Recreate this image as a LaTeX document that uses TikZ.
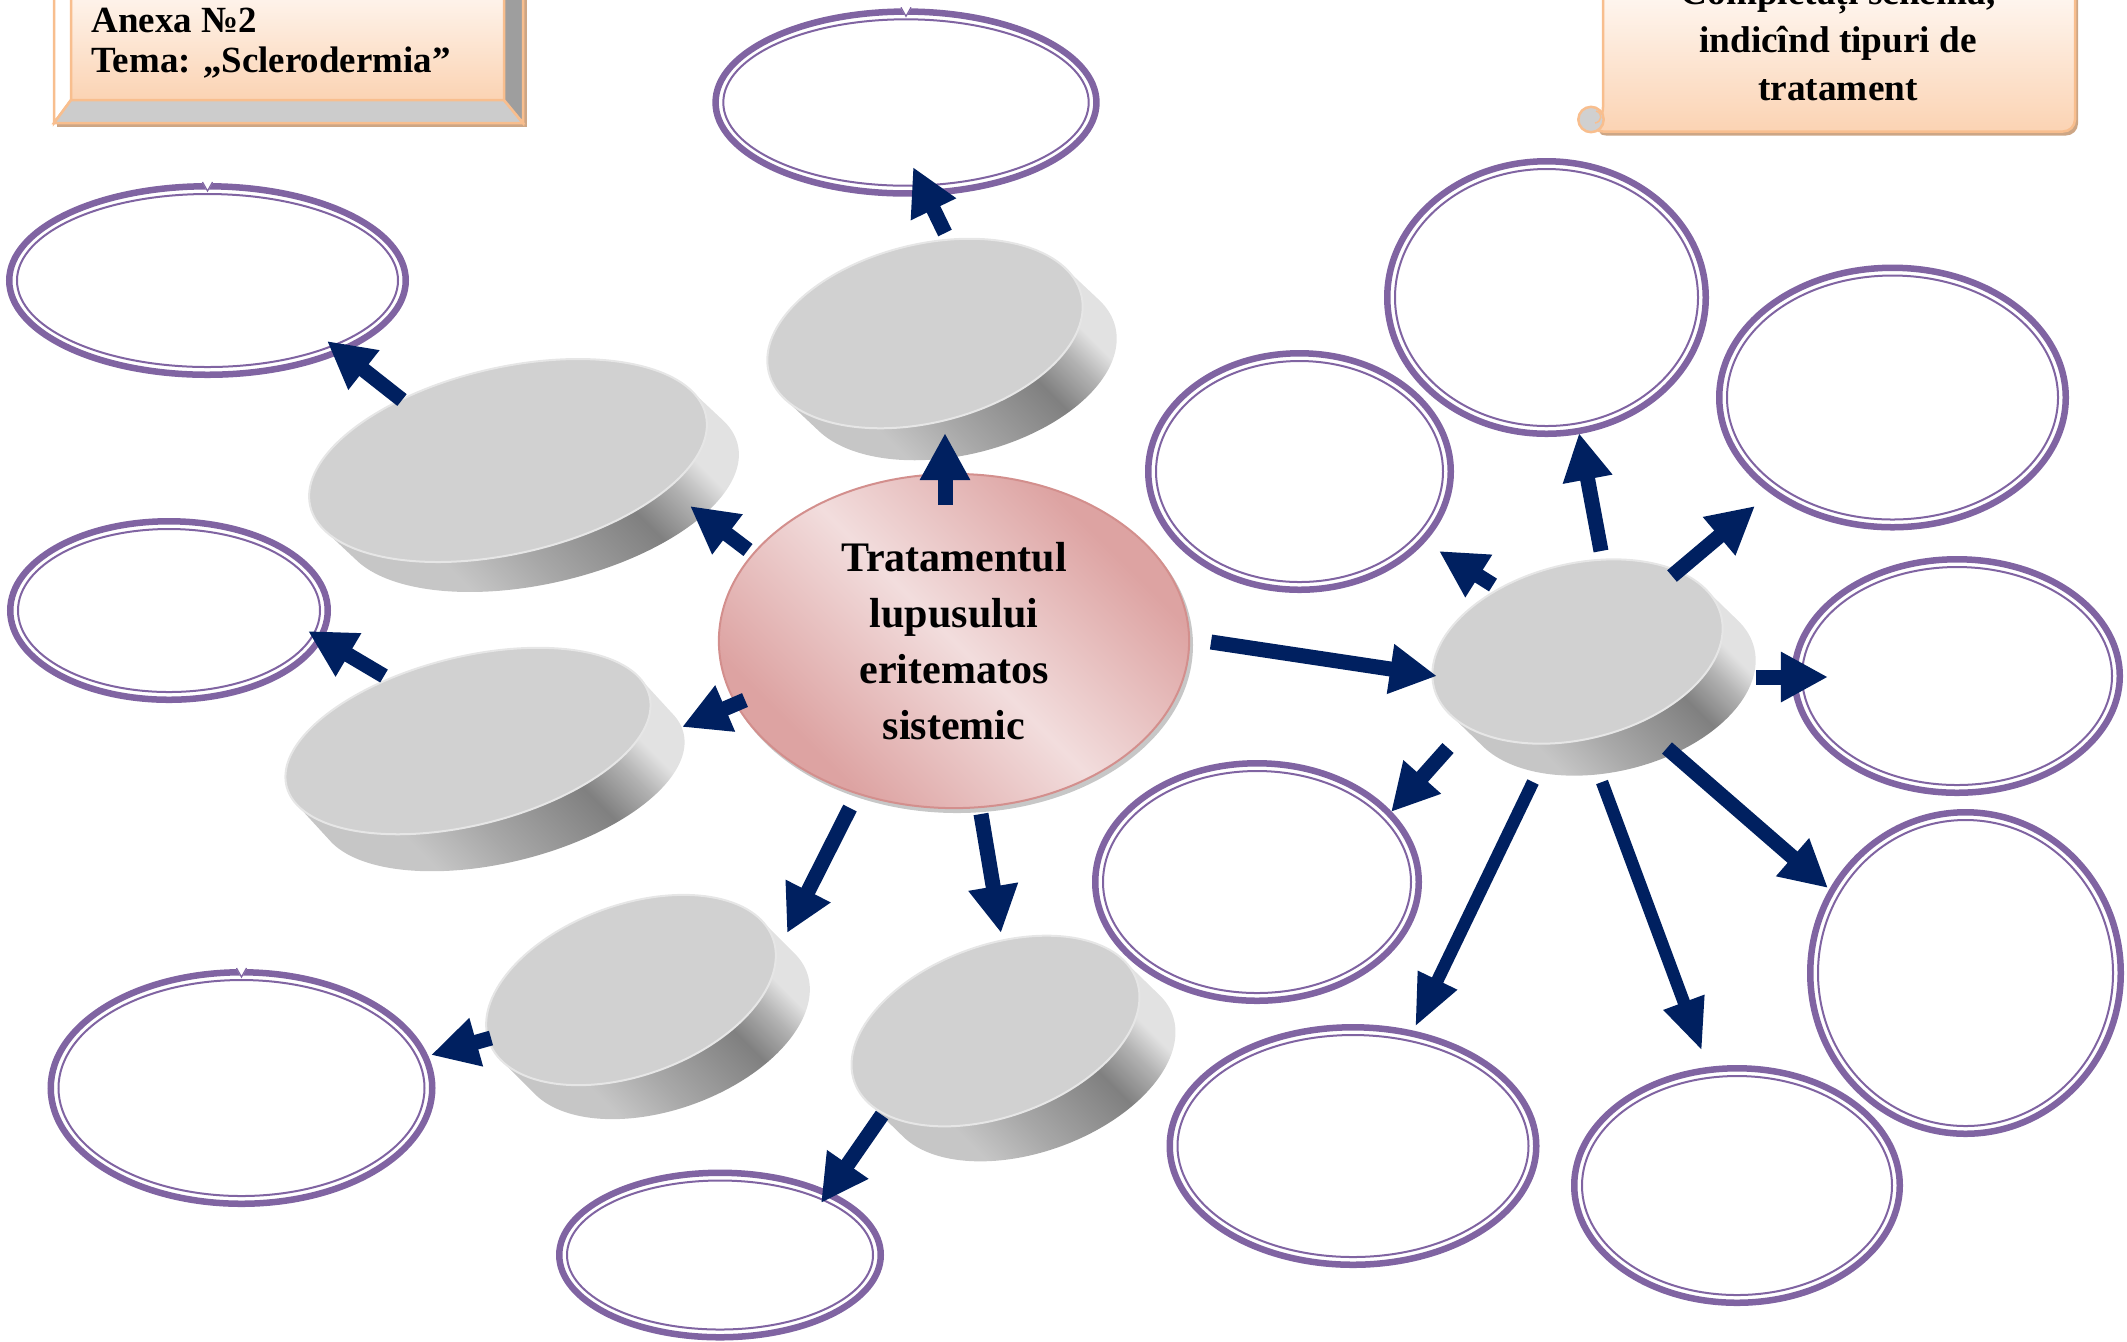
\documentclass[tikz,border=0pt]{standalone}
\usepackage{fontspec}
\setmainfont{Liberation Serif}
\usetikzlibrary{arrows.meta,shapes.geometric}

\definecolor{ringc}{HTML}{8064A2}
\definecolor{arrowc}{HTML}{002060}
\definecolor{faceg}{HTML}{D1D1D1}
\definecolor{rimg}{HTML}{E6E6E6}
\definecolor{peachline}{HTML}{F8BE8E}
\definecolor{peachfill}{HTML}{FBD3B3}
\definecolor{cardshadow}{HTML}{CDA685}
\definecolor{bevelbottom}{HTML}{CCCCCC}
\definecolor{bevelright}{HTML}{9E9E9E}
\definecolor{curlgray}{HTML}{D0D0D0}
\definecolor{hubdark}{HTML}{DDA3A2}
\definecolor{hublight}{HTML}{F2DDDD}
\definecolor{hubline}{HTML}{D38F8D}
\definecolor{sideA}{HTML}{C6C6C6}
\definecolor{sideB}{HTML}{A8A8A8}
\definecolor{sideC}{HTML}{808080}
\definecolor{sideD}{HTML}{B2B2B2}
\definecolor{sideE}{HTML}{E2E2E2}

\pgfdeclarehorizontalshading{discside}{100bp}{color(0bp)=(sideA); color(32bp)=(sideA); color(42bp)=(sideB); color(58bp)=(sideC); color(65bp)=(sideD); color(70bp)=(sideE); color(100bp)=(sideE)}
\pgfdeclarehorizontalshading{hubshade}{100bp}{color(0bp)=(hubdark); color(28bp)=(hubdark); color(50bp)=(hublight); color(72bp)=(hubdark); color(100bp)=(hubdark)}

% empty answer field: thick outer ring with a thin inner ring
% #1 name, #2 #3 centre, #4 #5 outer radii (px)
\newcommand\ringnode[5]{%
  \node[ringout, minimum width=2*#4*0.01cm-0.065cm, minimum height=2*#5*0.01cm-0.065cm] (#1) at (#2,#3) {};
  \draw[ringin] (#1.center) ellipse [x radius=#4-11, y radius=#5-11];
}

% small notch cut into the top of a ring
\newcommand\ringnotch[1]{%
  \fill[white] ([shift={(-6,-2)}]#1.north) -- ([shift={(0,9)}]#1.north) -- ([shift={(6,-2)}]#1.north) -- cycle;
  \draw[ringc, line width=0.012cm] ([shift={(-5,-1)}]#1.north) -- ([shift={(0,8)}]#1.north) -- ([shift={(5,-1)}]#1.north);
}

% tilted grey disc: side = face swept along (dx,dy), then the face on top
% #1 name, #2 #3 centre, #4 #5 semi-axes, #6 tilt, #7 #8 depth offset
\newcommand\discnode[8]{%
  \shade[shading=discside, shading angle=45]
    plot[domain=0:360, samples=361]
    ({#2 + #4*cos(\x)*cos(#6) + #5*sin(\x)*sin(#6) + #7*(((#7*cos(#6)-#8*sin(#6))*cos(\x)/#4 + (#7*sin(#6)+#8*cos(#6))*sin(\x)/#5) > 0)},
     {#3 - #4*cos(\x)*sin(#6) + #5*sin(\x)*cos(#6) + #8*(((#7*cos(#6)-#8*sin(#6))*cos(\x)/#4 + (#7*sin(#6)+#8*cos(#6))*sin(\x)/#5) > 0)}) -- cycle;
  \node[discface, rotate=#6, minimum width=2*#4*0.01cm, minimum height=2*#5*0.01cm] (#1) at (#2,#3) {};
}

\begin{document}
\begin{tikzpicture}[x=0.01cm, y=-0.01cm,
  ringout/.style={ellipse, draw=ringc, line width=0.065cm, inner sep=0pt},
  ringin/.style={draw=ringc, line width=0.02cm},
  discface/.style={ellipse, fill=faceg, draw=rimg, line width=0.02cm, inner sep=0pt},
  hubnode/.style={ellipse, shade, shading=hubshade, shading angle=45, draw=hubline,
    line width=0.02cm, inner sep=0pt, minimum width=4.70cm, minimum height=3.34cm,
    align=center, font=\fontsize{11.95pt}{15.93pt}\selectfont\bfseries},
  blk/.style={draw=arrowc, line width=0.15cm, -{Triangle[width=0.47cm,length=0.47cm]}},
  blklong/.style={draw=arrowc, line width=0.125cm, -{Triangle[width=0.40cm,length=0.52cm]}},
  edge line/.style={draw=peachline, line width=0.025cm},
  cardtext/.style={inner sep=0pt, anchor=base west, font=\fontsize{10.5pt}{11.8pt}\selectfont\bfseries},
  scrolltext/.style={inner sep=0pt, anchor=base, font=\fontsize{10.6pt}{13.7pt}\selectfont\bfseries}]

\useasboundingbox (0,0) rectangle (2127,1341);
\clip (0,0) rectangle (2127,1341);

% ---- bevelled title card, top left
\fill[cardshadow] (57,-40) rectangle (527,127);
\fill[top color=white, bottom color=peachfill] (71,-40) rectangle (504,100);
\filldraw[edge line, fill=white] (54,-40) -- (71,-23) -- (71,100) -- (54,123) -- cycle;
\filldraw[edge line, fill=bevelbottom] (54,123) -- (71,100) -- (504,100) -- (523,123) -- cycle;
\filldraw[edge line, fill=bevelright] (504,100) -- (523,123) -- (523,-40) -- (504,-21) -- cycle;
\draw[edge line] (71,-40) rectangle (504,100);
\node[cardtext] (anexa) at (91,32) {Anexa №2};
\node[cardtext] (tema) at (91,72) {Tema: „Sclerodermia”};

% ---- scroll with the task, top right
\fill[cardshadow, rounded corners=0.12cm] (1606,-40) -- (1606,123) -- (1594,135.5) -- (2078,135.5) -- (2078,-40) -- cycle;
\fill[top color=white, bottom color=peachfill, rounded corners=0.12cm] (1603,-40) -- (1603,119) -- (1591,131.5) -- (2075,131.5) -- (2075,-40) -- cycle;
\draw[edge line, rounded corners=0.12cm] (1603,-40) -- (1603,119) -- (1591,131.5) -- (2075,131.5) -- (2075,-40);
\filldraw[edge line, fill=curlgray] (1591,119.5) circle (12.7);
\draw[draw=peachline, line width=0.015cm] (1596,111) .. controls (1603,113) and (1602,122) .. (1595,123);
\node[scrolltext] (task1) at (1838,4) {Completați schema,};
\node[scrolltext] (task2) at (1838,52) {indicînd tipuri de};
\node[scrolltext] (task3) at (1838,100) {tratament};

% ---- answer fields
\ringnode{A}{906}{102.5}{193.7}{94.2}
\ringnode{B}{207.5}{280.5}{201.5}{97.5}
\ringnode{C}{169}{610.5}{162}{92.5}
\ringnode{D}{241.5}{1088}{194}{119}
\ringnode{E}{720}{1255}{164}{85.5}
\ringnode{F1}{1299.5}{471.5}{154.5}{121.5}
\ringnode{F2}{1546.5}{297.5}{162.5}{139.5}
\ringnode{F3}{1892.5}{397.5}{176.5}{133}
\ringnode{F4}{1957}{676}{166}{120}
\ringnode{F5}{1965.5}{973}{158.5}{164}
\ringnode{F6}{1257}{882}{165}{122}
\ringnode{F7}{1353}{1146}{186.5}{122}
\ringnode{F8}{1737}{1185.5}{166}{120.5}
\ringnotch{A}
\ringnotch{B}
\ringnotch{D}

% ---- grey discs
\discnode{d1}{925}{333.5}{161}{89}{14}{34}{32}
\discnode{d2}{508}{460.5}{203}{93}{13}{32}{30}
\discnode{d3}{468}{741}{187}{84}{14}{34}{37}
\discnode{d4}{631}{990}{151}{85}{20}{34}{34}
\discnode{d5}{995.5}{1031}{150}{85.5}{20}{36}{35}
\discnode{d6}{1577.5}{651.5}{148}{87.5}{14}{33}{32}

% ---- central topic
\fill[black, opacity=0.22] (957,645) ellipse [x radius=236, y radius=168];
\node[hubnode] (hub) at (954,641) {Tratamentul\\lupusului\\eritematos\\sistemic};

% ---- arrow ends
\coordinate (hub-up) at (945,505);    \coordinate (d1-in) at (945,433);
\coordinate (hub-ul) at (748,550);    \coordinate (d2-in) at (690,506);
\coordinate (hub-l)  at (745,700);    \coordinate (d3-in) at (682,727);
\coordinate (hub-dl) at (850,808);    \coordinate (d4-in) at (787,933);
\coordinate (hub-d)  at (981,814);    \coordinate (d5-in) at (1001,933);
\coordinate (hub-r)  at (1211,642);   \coordinate (d6-in) at (1437,676);
\coordinate (d1-out) at (945,233);    \coordinate (A-in) at (913,167);
\coordinate (d2-out) at (402,400);    \coordinate (B-in) at (327,341);
\coordinate (d3-out) at (384,676);    \coordinate (C-in) at (308,631);
\coordinate (d4-out) at (491,1038);   \coordinate (D-in) at (431,1055);
\coordinate (d5-out) at (882,1115);   \coordinate (E-in) at (821,1203);
\coordinate (d6-o1) at (1493,585);    \coordinate (F1-in) at (1439,551);
\coordinate (d6-o2) at (1601,551);    \coordinate (F2-in) at (1579,433);
\coordinate (d6-o3) at (1672,576);    \coordinate (F3-in) at (1755,506);
\coordinate (d6-o4) at (1756,677);    \coordinate (F4-in) at (1828,677);
\coordinate (d6-o5) at (1667,748);    \coordinate (F5-in) at (1828,888);
\coordinate (d6-o6) at (1448,748);    \coordinate (F6-in) at (1391,812);
\coordinate (d6-o7) at (1533,782);    \coordinate (F7-in) at (1415,1027);
\coordinate (d6-o8) at (1602,782);    \coordinate (F8-in) at (1702,1051);

% ---- arrows
\draw[blk] (hub-up) -- (d1-in);
\draw[blk] (hub-ul) -- (d2-in);
\draw[blk] (hub-l) -- (d3-in);
\draw[blk] (hub-dl) -- (d4-in);
\draw[blk] (hub-d) -- (d5-in);
\draw[blk] (hub-r) -- (d6-in);
\draw[blk] (d1-out) -- (A-in);
\draw[blk] (d2-out) -- (B-in);
\draw[blk] (d3-out) -- (C-in);
\draw[blk] (d4-out) -- (D-in);
\draw[blk] (d5-out) -- (E-in);
\draw[blk] (d6-o1) -- (F1-in);
\draw[blk] (d6-o2) -- (F2-in);
\draw[blk] (d6-o3) -- (F3-in);
\draw[blk] (d6-o4) -- (F4-in);
\draw[blk] (d6-o5) -- (F5-in);
\draw[blk] (d6-o6) -- (F6-in);
\draw[blklong] (d6-o7) -- (F7-in);
\draw[blklong] (d6-o8) -- (F8-in);
\end{tikzpicture}
\end{document}
